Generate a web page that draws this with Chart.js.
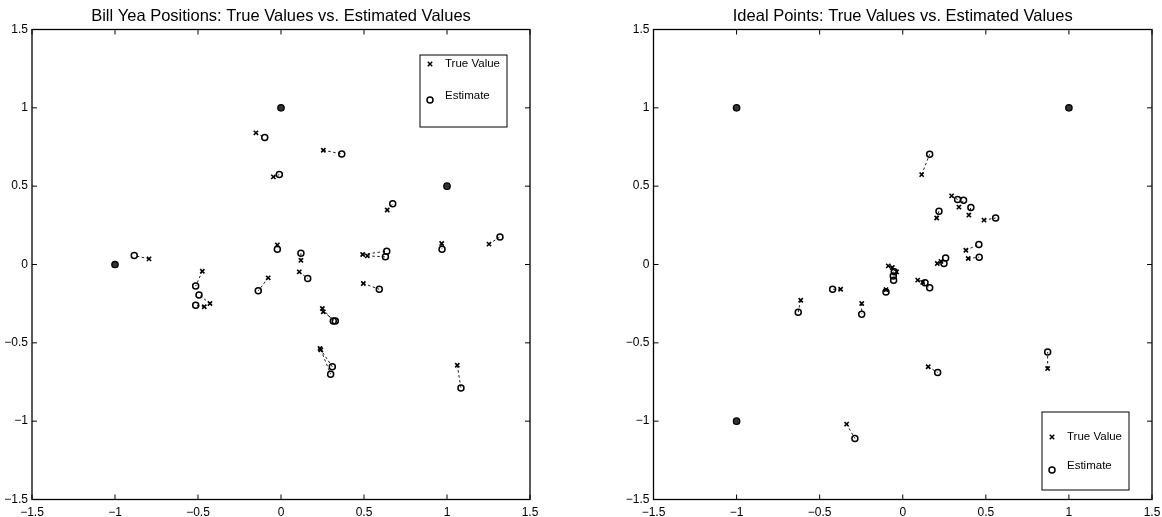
<!DOCTYPE html>
<html><head><meta charset="utf-8">
<script src="https://cdn.jsdelivr.net/npm/chart.js@4/dist/chart.umd.min.js"></script>
<style>
html,body{margin:0;padding:0;background:#fff;}
#wrap{position:relative;width:1162px;height:517px;overflow:hidden;}
canvas{position:absolute;top:0;}
</style></head><body>
<div id="wrap">
<canvas id="left" width="581" height="517" style="left:0"></canvas>
<canvas id="right" width="581" height="517" style="left:581px"></canvas>
</div>
<script>
const tickValues = [-1.5, -1, -0.5, 0, 0.5, 1, 1.5];
const tickLabels = ['−1.5', '−1', '−0.5', '0', '0.5', '1', '1.5'];
const titles = ['Bill Yea Positions: True Values vs. Estimated Values', 'Ideal Points: True Values vs. Estimated Values'];
const legendLabels = ['True Value', 'Estimate'];

// Bill Yea positions
const billTrueX = [-0.151, -0.046, 0.255, 0.640, -0.795, -0.022, 0.120, 0.492, 0.520, 0.968, 1.253, -0.474, -0.428, -0.462, -0.077, 0.110, 0.496, 0.249, 0.255, 0.235, 0.240, 1.062];
const billTrueY = [0.840, 0.559, 0.729, 0.348, 0.036, 0.125, 0.026, 0.064, 0.055, 0.134, 0.130, -0.043, -0.249, -0.270, -0.085, -0.047, -0.121, -0.281, -0.302, -0.536, -0.545, -0.643];
const billEstX = [-0.098, -0.010, 0.366, 0.673, -0.884, -0.022, 0.120, 0.637, 0.629, 0.970, 1.319, -0.514, -0.494, -0.514, -0.137, 0.161, 0.592, 0.315, 0.327, 0.309, 0.299, 1.084];
const billEstY = [0.810, 0.574, 0.706, 0.387, 0.057, 0.098, 0.072, 0.085, 0.049, 0.098, 0.176, -0.138, -0.194, -0.260, -0.168, -0.089, -0.158, -0.360, -0.360, -0.653, -0.700, -0.789];
const billFixedX = [0, 1, -1];
const billFixedY = [1, 0.5, 0];

// Ideal points
const idealTrueX = [0.114, 0.294, 0.338, 0.398, 0.204, 0.489, 0.380, 0.394, 0.208, 0.230, -0.087, -0.063, -0.037, 0.090, 0.120, -0.101, -0.247, 0.153, 0.872, -0.374, -0.614, -0.338];
const idealTrueY = [0.574, 0.438, 0.366, 0.315, 0.297, 0.283, 0.091, 0.038, 0.006, 0.020, -0.009, -0.019, -0.047, -0.100, -0.114, -0.160, -0.249, -0.653, -0.664, -0.158, -0.228, -1.019];
const idealEstX = [0.162, 0.330, 0.366, 0.410, 0.218, 0.559, 0.458, 0.460, 0.258, 0.248, -0.051, -0.057, -0.055, 0.134, 0.162, -0.101, -0.247, 0.210, 0.872, -0.422, -0.629, -0.288];
const idealEstY = [0.704, 0.415, 0.410, 0.364, 0.340, 0.297, 0.128, 0.047, 0.042, 0.006, -0.047, -0.073, -0.100, -0.117, -0.149, -0.175, -0.317, -0.689, -0.558, -0.158, -0.304, -1.110];
const idealFixedX = [-1, 1, -1];
const idealFixedY = [1, 1, -1];

const FONT = "'Liberation Sans', Arial, Helvetica, sans-serif";

const framePlugin = {
  id: 'frame',
  beforeDatasetsDraw(chart) {
    const { ctx, chartArea: a, scales } = chart;
    ctx.save();
    ctx.strokeStyle = '#000';
    ctx.lineWidth = 1.3;
    ctx.strokeRect(a.left, a.top, a.right - a.left, a.bottom - a.top);
    ctx.lineWidth = 1;
    const L = 5;
    ctx.beginPath();
    tickValues.forEach(v => {
      const px = scales.x.getPixelForValue(v);
      const py = scales.y.getPixelForValue(v);
      ctx.moveTo(px, a.bottom); ctx.lineTo(px, a.bottom - L);
      ctx.moveTo(px, a.top); ctx.lineTo(px, a.top + L);
      ctx.moveTo(a.left, py); ctx.lineTo(a.left + L, py);
      ctx.moveTo(a.right, py); ctx.lineTo(a.right - L, py);
    });
    ctx.stroke();
    ctx.restore();
  }
};

function drawX(ctx, x, y, r) {
  ctx.beginPath();
  ctx.moveTo(x - r, y - r); ctx.lineTo(x + r, y + r);
  ctx.moveTo(x - r, y + r); ctx.lineTo(x + r, y - r);
  ctx.stroke();
}
function drawO(ctx, x, y, r) {
  ctx.beginPath();
  ctx.arc(x, y, r, 0, Math.PI * 2);
  ctx.stroke();
}

const legendPlugin = {
  id: 'boxLegend',
  afterDraw(chart, args, opts) {
    const { ctx, chartArea: a } = chart;
    const bx = a.left + opts.left, by = a.top + opts.top;
    ctx.save();
    ctx.fillStyle = '#fff';
    ctx.fillRect(bx, by, opts.width, opts.height);
    ctx.strokeStyle = '#000';
    ctx.lineWidth = 1;
    ctx.strokeRect(bx, by, opts.width, opts.height);
    ctx.font = '11.5px ' + FONT;
    ctx.fillStyle = '#000';
    ctx.textBaseline = 'middle';
    ctx.textAlign = 'left';
    ctx.lineWidth = 1.5;
    drawX(ctx, bx + 10, by + opts.rows[0][1], 2.2);
    ctx.fillText(legendLabels[0], bx + 25, by + opts.rows[0][0]);
    drawO(ctx, bx + 10, by + opts.rows[1][1], 3);
    ctx.fillText(legendLabels[1], bx + 25, by + opts.rows[1][0]);
    ctx.restore();
  }
};

function makeChart(id, title, tX, tY, eX, eY, fX, fY, padL, padR, legendOpts) {
  const segs = [];
  for (let i = 0; i < tX.length; i++) {
    segs.push({ x: tX[i], y: tY[i] }, { x: eX[i], y: eY[i] }, { x: eX[i], y: null });
  }
  const trueData = tX.map((x, i) => ({ x, y: tY[i] }));
  const estData = eX.map((x, i) => ({ x, y: eY[i] }));
  const fixedData = fX.map((x, i) => ({ x, y: fY[i] }));
  const scaleCommon = {
    type: 'linear', min: -1.5, max: 1.5,
    grid: { display: false, drawTicks: false },
    border: { display: false },
    afterBuildTicks: s => { s.ticks = tickValues.map(v => ({ value: v })); },
  };
  return new Chart(document.getElementById(id), {
    type: 'scatter',
    data: {
      datasets: [
        { data: segs, showLine: true, spanGaps: false, borderColor: '#000', borderWidth: 0.9, borderDash: [2.5, 2.5], pointRadius: 0, pointHoverRadius: 0 },
        { data: trueData, pointStyle: 'crossRot', pointRadius: 3, borderColor: '#000', borderWidth: 1.6, backgroundColor: '#000' },
        { data: estData, pointStyle: 'circle', pointRadius: 3, borderColor: '#000', borderWidth: 1.5, backgroundColor: 'rgba(0,0,0,0)' },
        { data: fixedData, pointStyle: 'circle', pointRadius: 3.2, borderColor: '#000', borderWidth: 1.3, backgroundColor: '#333' }
      ]
    },
    options: {
      responsive: false,
      devicePixelRatio: 1,
      animation: false,
      events: [],
      layout: { padding: { left: padL, right: padR, top: 0, bottom: 0 } },
      scales: {
        x: Object.assign({}, scaleCommon, {
          position: 'bottom',
          ticks: { padding: 6, maxRotation: 0, autoSkip: false, color: '#000', font: { family: FONT, size: 12 },
            callback: v => tickLabels[tickValues.indexOf(v)] },
          afterFit: s => { s.height = 17.5; s.paddingLeft = 0; s.paddingRight = 0; }
        }),
        y: Object.assign({}, scaleCommon, {
          position: 'left',
          ticks: { padding: 4, autoSkip: false, color: '#000', font: { family: FONT, size: 12 },
            callback: v => tickLabels[tickValues.indexOf(v)] },
          afterFit: s => { s.width = 32; s.paddingTop = 0; s.paddingBottom = 0; }
        })
      },
      plugins: {
        legend: { display: false },
        tooltip: { enabled: false },
        title: { display: true, text: title, fullSize: false, color: '#000',
          font: { family: FONT, size: 16.5, weight: 'normal', lineHeight: 1.2 },
          padding: { top: 7, bottom: 2.7 } },
        boxLegend: legendOpts
      }
    },
    plugins: [framePlugin, legendPlugin]
  });
}

makeChart('left', titles[0], billTrueX, billTrueY, billEstX, billEstY, billFixedX, billFixedY, 0, 51,
  { left: 388, top: 25.5, width: 87, height: 72, rows: [[9, 9], [41, 45]] });
makeChart('right', titles[1], idealTrueX, idealTrueY, idealEstX, idealEstY, idealFixedX, idealFixedY, 40.5, 10,
  { left: 388.5, top: 382.5, width: 87, height: 78, rows: [[25, 25], [54, 58]] });
</script>
</body></html>
